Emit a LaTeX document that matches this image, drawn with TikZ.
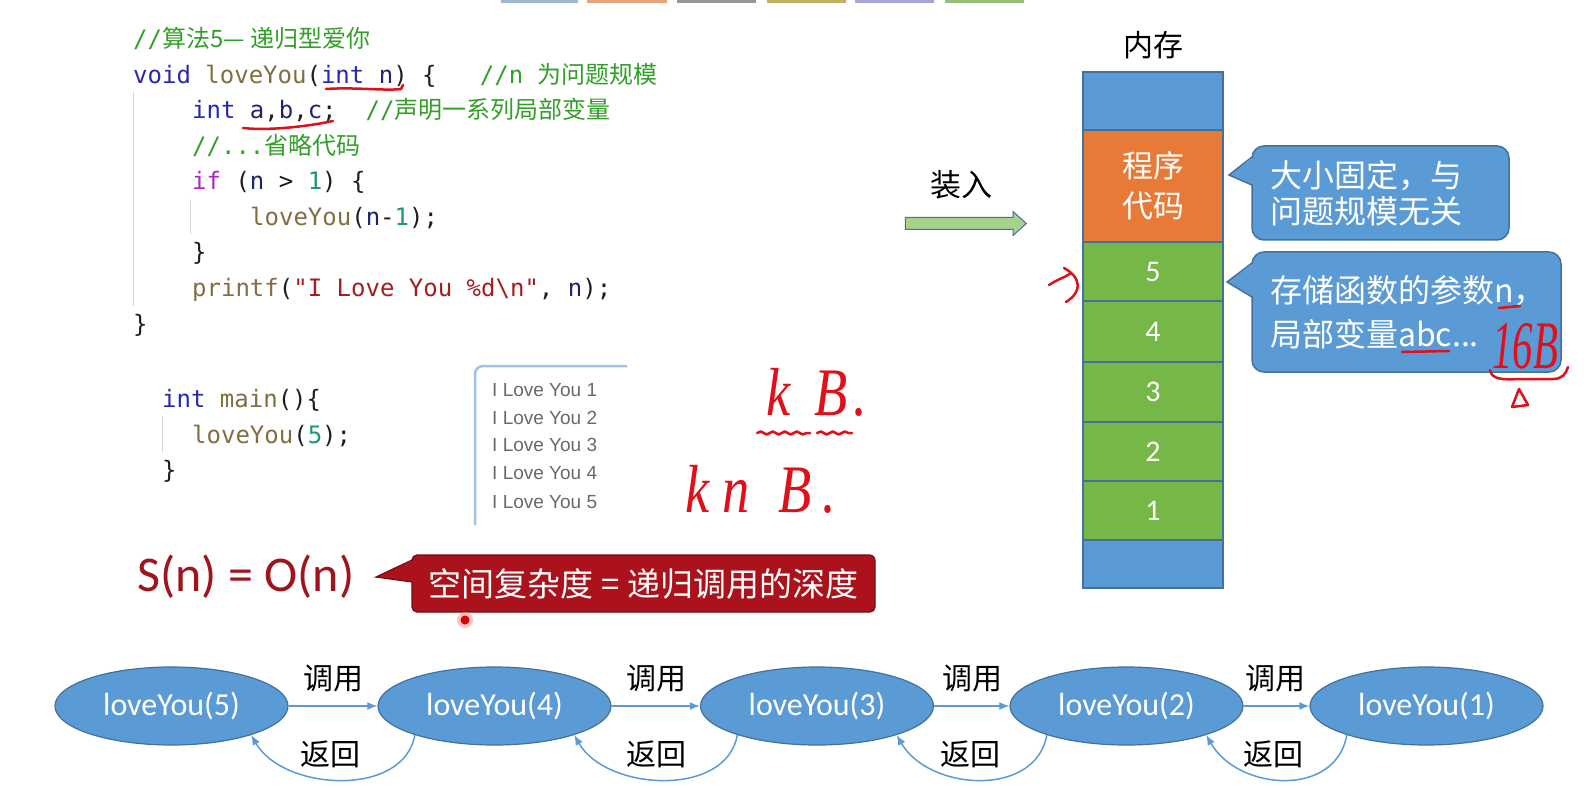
\documentclass[tikz,border=0pt]{standalone}
\usepackage{fontspec}
\setmainfont{Carlito}
\newfontfamily\cjk{Noto Sans CJK SC}
\newfontfamily\codefont{DejaVu Sans Mono}
\newfontfamily\outfont{Liberation Sans}
\newfontfamily\handfont{Liberation Serif}
\usetikzlibrary{arrows.meta,shapes.geometric,shapes.arrows,decorations.pathmorphing}
\newcommand\fsz[1]{\fontsize{#1}{#1}\selectfont}
\definecolor{cmt}{RGB}{50,160,40}
\definecolor{kw}{RGB}{40,40,180}
\definecolor{fn}{RGB}{130,110,65}
\definecolor{var}{RGB}{30,35,110}
\definecolor{kif}{RGB}{170,40,200}
\definecolor{num}{RGB}{30,150,120}
\definecolor{str}{RGB}{165,30,30}
\definecolor{pun}{RGB}{30,30,30}
\definecolor{memblue}{RGB}{91,155,213}
\definecolor{memorange}{RGB}{232,122,55}
\definecolor{memgreen}{RGB}{118,184,72}
\definecolor{memedge}{RGB}{65,113,156}
\definecolor{pen}{RGB}{225,15,25}
\definecolor{darkred}{RGB}{160,20,30}
\definecolor{calred}{RGB}{172,18,28}
\definecolor{calredge}{RGB}{115,10,18}
\definecolor{guide}{RGB}{215,215,215}
\definecolor{outedge}{RGB}{160,195,225}
\definecolor{outtext}{RGB}{105,105,105}
\definecolor{arrowgreen}{RGB}{169,209,142}
\definecolor{tabA}{RGB}{160,185,210}
\definecolor{tabB}{RGB}{225,165,125}
\definecolor{tabC}{RGB}{150,150,150}
\definecolor{tabD}{RGB}{195,175,100}
\definecolor{tabE}{RGB}{165,165,215}
\definecolor{tabF}{RGB}{150,190,120}
\newcommand\ckw[1]{\textcolor{kw}{#1}}
\newcommand\cfn[1]{\textcolor{fn}{#1}}
\newcommand\cvar[1]{\textcolor{var}{#1}}
\newcommand\cif[1]{\textcolor{kif}{#1}}
\newcommand\cnum[1]{\textcolor{num}{#1}}
\newcommand\cstr[1]{\textcolor{str}{#1}}
\newcommand\ccm[1]{\textcolor{cmt}{#1}}
\begin{document}
\begin{tikzpicture}[x=1pt,y=-1pt,
  code/.style={anchor=base west,inner sep=0pt,text=pun,font=\codefont\fsz{24}},
  guideline/.style={draw=guide,line width=1pt},
  outl/.style={anchor=west,inner sep=0pt,text=outtext,font=\outfont\fsz{19}},
  cell/.style={draw=memedge,line width=1.5pt,minimum width=140pt,inner sep=0pt,text=white,font=\fsz{30},align=center},
  callbox/.style={draw=memedge,fill=memblue,line width=1.5pt,rounded corners=12pt,inner xsep=18pt,inner ysep=0pt,text=white,align=left},
  ell/.style={ellipse,draw=memedge,fill=memblue,line width=1.2pt,minimum width=233pt,minimum height=78pt,inner sep=0pt,text=white,font=\fsz{32}},
  flow/.style={draw=memblue,line width=1.5pt,-{Latex[length=10pt,width=8pt]}},
  lbl/.style={inner sep=0pt,text=black,font=\cjk\fsz{30}},
  pen/.style={draw=pen,line width=2.5pt,line cap=round,line join=round},
  hand/.style={anchor=base west,inner sep=0pt,text=pen}]
\path[use as bounding box,fill=white] (0,0) rectangle (1584,786);

% top tabs
\fill[tabA] (501,0) rectangle (578,3);
\fill[tabB] (587,0) rectangle (667,3);
\fill[tabC] (677,0) rectangle (756,3);
\fill[tabD] (767,0) rectangle (846,3);
\fill[tabE] (855,0) rectangle (934,3);
\fill[tabF] (945,0) rectangle (1024,3);

% code
\draw[guideline] (133,92) -- (133,306);
\draw[guideline] (190,200) -- (190,234);
\draw[guideline] (162,416) -- (162,452);
\node[code] (l1) at (133,48) {\ccm{//{\cjk 算法5— 递归型爱你}}};
\node[code] (l2) at (133,83.5) {\ckw{void} \cfn{loveYou}(\ckw{int} \cvar{n}) \{\ \ \ \ccm{//n {\cjk 为问题规模}}};
\node[code] (l3) at (192,119) {\ckw{int} \cvar{a},\cvar{b},\cvar{c};\ \ \ccm{//{\cjk 声明一系列局部变量}}};
\node[code] (l4) at (192,154.5) {\ccm{//...{\cjk 省略代码}}};
\node[code] (l5) at (192,190) {\cif{if} (\cvar{n} > \cnum{1}) \{};
\node[code] (l6) at (250,225.5) {\cfn{loveYou}(\cvar{n}-\cnum{1});};
\node[code] (l7) at (192,261) {\}};
\node[code] (l8) at (192,296.5) {\cfn{printf}(\cstr{"I Love You \%d\textbackslash n"}, \cvar{n});};
\node[code] (l9) at (133,332) {\}};
\node[code] (m1l) at (162,407) {\ckw{int} \cfn{main}()\{};
\node[code] (m2l) at (192,443) {\cfn{loveYou}(\cnum{5});};
\node[code] (m3l) at (162,478) {\}};

% output window
\draw[outedge,line width=2.5pt,rounded corners=8pt] (475,525) -- (475,366) -- (627,366);
\node[outl] (o1) at (492,390) {I Love You 1};
\node[outl] (o2) at (492,418) {I Love You 2};
\node[outl] (o3) at (492,445) {I Love You 3};
\node[outl] (o4) at (492,473) {I Love You 4};
\node[outl] (o5) at (492,502) {I Love You 5};

% load arrow
\node[lbl,font=\cjk\fsz{31}] (loadlbl) at (961,185) {装入};
\node[single arrow,draw=memedge,fill=arrowgreen,line width=1pt,minimum height=121pt,inner xsep=0pt,inner ysep=5.5pt,single arrow head extend=6pt,single arrow tip angle=84] (load) at (962.5,223.5) {};

% memory
\node[lbl] (memlbl) at (1153,45) {内存};
\node[cell,fill=memblue,minimum height=58pt] (m0) at (1153,101) {};
\node[cell,fill=memorange,minimum height=112pt,font=\cjk\fontsize{31}{40}\selectfont] (mc) at (1153,186) {程序\\代码};
\node[cell,fill=memgreen,minimum height=59pt] (m5) at (1153,271.5) {5};
\node[cell,fill=memgreen,minimum height=61pt] (m4) at (1153,331.5) {4};
\node[cell,fill=memgreen,minimum height=60pt] (m3) at (1153,392) {3};
\node[cell,fill=memgreen,minimum height=59pt] (m2) at (1153,451.5) {2};
\node[cell,fill=memgreen,minimum height=59pt] (m1) at (1153,510.5) {1};
\node[cell,fill=memblue,minimum height=48pt] (mb) at (1153,564) {};

% callouts
\node[callbox,text width=221pt,minimum height=94pt,font=\cjk\fontsize{32}{36}\selectfont] (c1) at (1380.5,193) {大小固定，与\\问题规模无关};
\fill[memblue] (1229,175) -- (1254,157) -- (1254,185) -- cycle;
\draw[memedge,line width=1.5pt] (1252,157) -- (1229,175) -- (1252,185);
\node[callbox,text width=273pt,minimum height=120pt,font=\cjk\fontsize{32}{44}\selectfont] (c2) at (1406.5,312) {存储函数的参数n，\\局部变量abc...};
\fill[memblue] (1227,282) -- (1254,263) -- (1254,297) -- cycle;
\draw[memedge,line width=1.5pt] (1252,263) -- (1227,282) -- (1252,297);

% complexity
\node[inner sep=0pt,text=darkred,font=\fsz{50}] (sn) at (246,577) {S(n) = O(n)};
\node[draw=calredge,fill=calred,line width=1.2pt,rounded corners=5pt,minimum width=463pt,minimum height=57pt,inner sep=0pt,text=white,font=\cjk\fsz{33}] (sc) at (643.5,583.5) {空间复杂度 = 递归调用的深度};
\fill[calred] (376,577) -- (413.5,560) -- (413.5,582) -- cycle;
\draw[calredge,line width=1.2pt] (412,560) -- (376,577) -- (412,582);
\fill[red!40!white,opacity=0.6] (465,620) circle (8pt);
\fill[red!85!black] (465,620) circle (4.5pt);

% call chain
\node[ell] (e5) at (171.5,706) {loveYou(5)};
\node[ell] (e4) at (494.5,706) {loveYou(4)};
\node[ell] (e3) at (817,706) {loveYou(3)};
\node[ell] (e2) at (1126.5,706) {loveYou(2)};
\node[ell] (e1) at (1426.5,706) {loveYou(1)};
\draw[flow] (e5) -- (e4);
\draw[flow] (e4) -- (e3);
\draw[flow] (e3) -- (e2);
\draw[flow] (e2) -- (e1);
\draw[flow] (e4.200) .. controls +(-11,63) and +(32,56) .. (e5.-20);
\draw[flow] (e3.200) .. controls +(-11,63) and +(32,56) .. (e4.-20);
\draw[flow] (e2.200) .. controls +(-11,63) and +(32,56) .. (e3.-20);
\draw[flow] (e1.200) .. controls +(-11,63) and +(32,56) .. (e2.-20);
\node[lbl] (k54) at (333,678) {调用};
\node[lbl] (k43) at (656,678) {调用};
\node[lbl] (k32) at (972,678) {调用};
\node[lbl] (k21) at (1275,678) {调用};
\node[lbl] (r45) at (330,754) {返回};
\node[lbl] (r34) at (656,754) {返回};
\node[lbl] (r23) at (970,754) {返回};
\node[lbl] (r12) at (1273,754) {返回};

% handwriting
\draw[pen] (326,89) .. controls (355,87) and (385,91) .. (401,89) -- (403,85);
\draw[pen] (243,128) .. controls (270,131) and (310,126) .. (333,121);
\node[hand,font=\handfont\itshape\fsz{68}] (hkb) at (766,415) {\scalebox{0.8}[1]{k\hspace{30pt}B\hspace{8pt}.}};
\draw[pen,decorate,decoration={snake,amplitude=1.5pt,segment length=12pt}] (757,433) -- (810,433);
\draw[pen,decorate,decoration={snake,amplitude=1.5pt,segment length=12pt}] (817,433) -- (852,433);
\node[hand,font=\handfont\itshape\fsz{68}] (hknb) at (685,512) {\scalebox{0.8}[1]{k\hspace{16pt}n\hspace{36pt}B\hspace{14pt}.}};
\draw[pen] (1049,285) .. controls (1058,279) and (1066,277) .. (1071,273);
\draw[pen] (1064,268) .. controls (1082,278) and (1082,292) .. (1066,302);
\draw[pen] (1499,308) -- (1520,306);
\draw[pen] (1402,352) -- (1449,351);
\node[hand,font=\handfont\itshape\fsz{68}] (h16) at (1492,368) {\scalebox{0.6}[1]{16B}};
\draw[pen] (1490,370) .. controls (1492,379) and (1500,380) .. (1520,379) -- (1553,379) .. controls (1562,379) and (1566,374) .. (1568,367);
\draw[pen] (1512,407) -- (1519,389) -- (1528,405) -- cycle;
\end{tikzpicture}
\end{document}
